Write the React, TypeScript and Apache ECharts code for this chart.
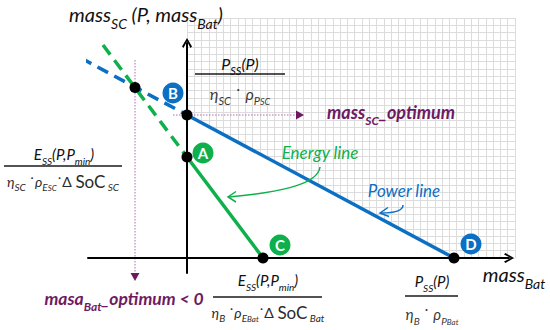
import React, { useEffect, useRef } from "react";
import * as echarts from "echarts";

const BLUE = "#0b6fc4";
const GREEN = "#0db04b";
const PURPLE = "#6e1a63";
const PINK = "#b36ab0";
const FONT = "Lato, 'Noto Sans', sans-serif";

// key lines (data units)
const powerLine = [[0, 14.3], [26.7, 0]];
const powerLineExt = [[-12.3, 20.9], [0, 14.3]];
const energyLine = [[0, 10.1], [7.6, 0]];
const energyLineExt = [[-8.4, 21.3], [0, 10.1]];
const keyPoints = [[0, 14.3], [0, 10.1], [7.6, 0], [26.7, 0], [-5.2, 17.05]];
const badgeNames = ["B", "A", "C", "D"];
const badgePos = [[-1.4, 16.5], [1.6, 10.5], [9.3, 1.3], [28.4, 1.4]];
const badgeColors = [BLUE, GREEN, GREEN, BLUE];
const optimumV = [[-5.2, 19.8], [-5.2, -1.6]];
const optimumH = [[-1.4, 14.3], [11.1, 14.3]];
const arrowHeads = [[-5.2, -1.9, 180], [11.3, 14.3, -90]];

function rich(size: number, color: string, bold = false) {
  const base = { fontFamily: FONT, fontStyle: "italic", fontWeight: bold ? "bold" : "normal", fill: color };
  const L = Math.round(size * 1.6);
  return {
    m: { ...base, fontSize: size, lineHeight: L },
    u: { ...base, fontStyle: "normal", fontSize: Math.round(size * 1.2), lineHeight: L },
    d: { ...base, fontStyle: "normal", fontSize: size, lineHeight: L },
    s: { ...base, fontSize: Math.round(size * 0.68), lineHeight: Math.round(size * 0.9), verticalAlign: "bottom" },
    t: { ...base, fontSize: Math.round(size * 0.56), lineHeight: Math.round(size * 0.4), verticalAlign: "bottom" },
  };
}
function rt(parts: [string, string][]) {
  return parts.map(([s, t]) => `{${s}|${t}}`).join("");
}
function txt(x: number, y: number, parts: [string, string][], size: number, color: string, bold = false) {
  return {
    type: "text",
    x,
    y,
    z: 20,
    style: {
      text: rt(parts),
      rich: rich(size, color, bold),
      align: "center",
      verticalAlign: "middle",
      fontFamily: FONT,
      fontStyle: "italic",
      fill: color,
    },
  };
}
function bar(x1: number, x2: number, y: number) {
  return { type: "line", z: 20, shape: { x1, y1: y, x2, y2: y }, style: { stroke: "#1a1a1a", lineWidth: 1.6 } };
}

const CHEVRON = "path://M5,0 L10,8.6 L8.5,10 L5,3.2 L1.5,10 L0,8.6 Z";

export default function App() {
  const ref = useRef<HTMLDivElement>(null);
  useEffect(() => {
    if (!ref.current) return;
    const chart = echarts.init(ref.current, undefined, { renderer: "svg" });
    const axisCommon = {
      type: "value",
      axisTick: { show: false },
      axisLabel: { show: false },
      splitLine: { show: false },
      z: 4,
      axisLine: {
        show: true,
        onZero: true,
        symbol: ["none", CHEVRON],
        symbolSize: [11, 10],
        lineStyle: { color: "#000", width: 2 },
      },
    };
    const bgAxis = {
      type: "value",
      axisTick: { show: false },
      axisLabel: { show: false },
      axisLine: { show: false },
      interval: 1,
      min: 0,
      splitLine: { show: true, lineStyle: { color: "#dcdcdc", width: 1 } },
    };
    const graphic: any[] = [
      txt(146, 14, [["m", "mass"], ["s", "SC"], ["m", " (P, mass"], ["s", "Bat"], ["m", ")"]], 20, "#111"),
      // top fraction
      txt(240, 63, [["m", "P"], ["s", "SS"], ["m", "(P)"]], 16, "#111"),
      bar(195, 285, 74),
      txt(240, 93, [["m", "η"], ["s", "SC"], ["d", " ˙ "], ["m", "ρ"], ["s", "P"], ["t", "SC"]], 16, "#3a3a3a"),
      // left fraction
      txt(64, 154, [["m", "E"], ["s", "SS"], ["m", "(P,P"], ["s", "min"], ["m", ")"]], 15, "#111"),
      bar(4, 122, 166),
      txt(63, 181, [["m", "η"], ["s", "SC"], ["d", " ˙"], ["m", "ρ"], ["s", "E"], ["t", "SC"], ["d", "˙Δ "], ["u", "SoC"], ["s", " SC"]], 14, "#2a2a2a"),
      // bottom C fraction
      txt(268, 280, [["m", "E"], ["s", "SS"], ["m", "(P,P"], ["s", "min"], ["m", ")"]], 15, "#111"),
      bar(213, 322, 297),
      txt(268, 312, [["m", "η"], ["s", "B"], ["d", " ˙"], ["m", "ρ"], ["s", "E"], ["t", "Bat"], ["d", "˙Δ "], ["u", "SoC"], ["s", " Bat"]], 14, "#2a2a2a"),
      // bottom D fraction
      txt(432, 281, [["m", "P"], ["s", "SS"], ["m", "(P)"]], 15, "#111"),
      bar(405, 458, 296),
      txt(432, 314, [["m", "η"], ["s", "B"], ["d", " ˙ "], ["m", "ρ"], ["s", "P"], ["t", "Bat"]], 15, "#3a3a3a"),
      // labels
      txt(391, 112, [["m", "mass"], ["s", "SC"], ["m", "_optimum"]], 18, PURPLE, true),
      txt(124, 298, [["m", "masa"], ["s", "Bat"], ["m", "_optimum < 0"]], 17.5, PURPLE, true),
      txt(320, 152, [["m", "Energy line"]], 17, GREEN),
      txt(404, 190, [["m", "Power line"]], 17, BLUE),
      txt(514, 274, [["m", "mass"], ["s", "Bat"]], 20, "#111"),
      // curved arrows
      {
        type: "bezierCurve",
        z: 20,
        shape: { x1: 320, y1: 167, cpx1: 318, cpy1: 186, cpx2: 272, cpy2: 193, x2: 229, y2: 197 },
        style: { stroke: GREEN, lineWidth: 1.5, fill: null },
      },
      {
        type: "polyline",
        z: 20,
        shape: { points: [[236, 191.5], [228, 197], [236, 202]] },
        style: { stroke: GREEN, lineWidth: 1.5, fill: null },
      },
      {
        type: "bezierCurve",
        z: 20,
        shape: { x1: 403, y1: 205, cpx1: 403, cpy1: 211, cpx2: 393, cpy2: 213, x2: 381, y2: 213 },
        style: { stroke: BLUE, lineWidth: 1.5, fill: null },
      },
      {
        type: "polyline",
        z: 20,
        shape: { points: [[388, 207.5], [380, 213], [389, 216.5]] },
        style: { stroke: BLUE, lineWidth: 1.5, fill: null },
      },
    ];

    chart.setOption({
      animation: false,
      backgroundColor: "#fff",
      grid: [
        { left: 88, right: 41, top: 43, bottom: 57 },
        { left: 187, top: 18, width: 328, height: 240 },
      ],
      xAxis: [
        { ...axisCommon, gridIndex: 0, min: -9.9, max: 32.2 },
        { ...bgAxis, gridIndex: 1, max: 45 },
      ],
      yAxis: [
        { ...axisCommon, gridIndex: 0, min: -1.5, max: 21.5 },
        { ...bgAxis, gridIndex: 1, max: 33 },
      ],
      graphic,
      series: [
        { type: "line", xAxisIndex: 1, yAxisIndex: 1, data: [], silent: true },
        {
          type: "line",
          data: powerLine,
          symbol: "none",
          z: 1,
          silent: true,
          lineStyle: { opacity: 0 },
          areaStyle: { color: "#fff", opacity: 1 },
        },
        {
          type: "line",
          data: optimumV,
          symbol: "none",
          clip: false,
          z: 2,
          lineStyle: { color: PINK, width: 1, type: [1.5, 1.5] },
        },
        {
          type: "line",
          data: optimumH,
          symbol: "none",
          clip: false,
          z: 2,
          lineStyle: { color: PINK, width: 1, type: [1.5, 1.5] },
        },
        {
          type: "scatter",
          data: arrowHeads,
          clip: false,
          symbol: "triangle",
          symbolSize: [9, 8],
          symbolRotate: (v: number[]) => v[2],
          itemStyle: { color: PURPLE, opacity: 1 },
          z: 3,
        },
        {
          type: "line",
          data: powerLine,
          symbol: "none",
          z: 3,
          lineStyle: { color: BLUE, width: 3.5 },
        },
        {
          type: "line",
          data: powerLineExt,
          symbol: "none",
          clip: false,
          z: 3,
          lineStyle: { color: BLUE, width: 3.5, type: [12, 7] },
        },
        {
          type: "line",
          data: energyLine,
          symbol: "none",
          z: 3,
          lineStyle: { color: GREEN, width: 3.5 },
        },
        {
          type: "line",
          data: energyLineExt,
          symbol: "none",
          clip: false,
          z: 3,
          lineStyle: { color: GREEN, width: 3.5, type: [12, 7] },
        },
        {
          type: "scatter",
          data: keyPoints,
          clip: false,
          symbolSize: 11,
          itemStyle: { color: "#000", opacity: 1 },
          z: 6,
        },
        {
          type: "scatter",
          clip: false,
          z: 7,
          symbolSize: 21,
          data: badgePos.map((p, i) => ({
            value: p,
            name: badgeNames[i],
            itemStyle: { color: badgeColors[i], opacity: 1 },
          })),
          label: {
            show: true,
            position: "inside",
            formatter: "{b}",
            color: "#fff",
            fontWeight: "bold",
            fontSize: 15,
            fontFamily: FONT,
          },
        },
      ],
    });
    return () => chart.dispose();
  }, []);
  return (
    <div
      ref={ref}
      style={{ position: "fixed", left: 0, top: 0, width: 550, height: 330, background: "#fff" }}
    />
  );
}
